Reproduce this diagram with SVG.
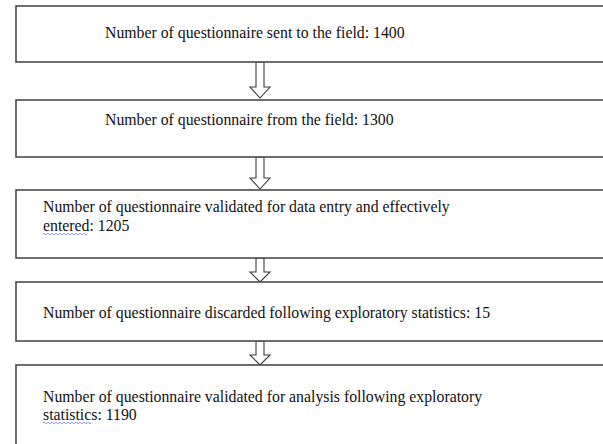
<svg xmlns="http://www.w3.org/2000/svg" width="603" height="444" viewBox="0 0 603 444">
  <defs>
    <style>
      .box { fill: #ffffff; stroke: #4a4a4a; stroke-width: 1.6; }
      .arrow { fill: #ffffff; stroke: #3a3a3a; stroke-width: 1.1; stroke-linejoin: miter; }
      text { font-family: 'Liberation Serif', 'Times New Roman', serif; font-size: 15.8px; fill: #111111; }
      .squiggle { fill: none; stroke: #6f7fe0; stroke-width: 0.8; }
    </style>
  </defs>
  <rect width="603" height="444" fill="#ffffff"/>

  <g id="connectors">
    <path class="arrow" d="M256,62 V87 H250 L260,98 L270,87 H264 V62 Z"/>
    <path class="arrow" d="M256,157 V178 H250 L260,189 L270,178 H264 V157 Z"/>
    <path class="arrow" d="M256,258 V272 H250 L260,282 L270,272 H264 V258 Z"/>
    <path class="arrow" d="M256,341 V355 H250 L260,365 L270,355 H264 V341 Z"/>
  </g>

  <g id="sent">
    <rect class="box" x="16" y="6" width="600" height="56"/>
    <text x="105" y="38">Number of questionnaire sent to the field: 1400</text>
  </g>

  <g id="returned">
    <rect class="box" x="16" y="100" width="600" height="57"/>
    <text x="105" y="125">Number of questionnaire from the field: 1300</text>
  </g>

  <g id="entered">
    <rect class="box" x="16" y="190" width="600" height="68"/>
    <text x="43" y="212">Number of questionnaire validated for data entry and effectively</text>
    <text x="43" y="231">entered: 1205</text>
    <path class="squiggle" d="M43,234 q1,-1.5 2,0 t2,0 t2,0 t2,0 t2,0 t2,0 t2,0 t2,0 t2,0 t2,0 t2,0 t2,0 t2,0 t2,0 t2,0 t2,0 t2,0 t2,0 t2,0 t2,0 t2,0 t2,0"/>
  </g>

  <g id="discarded">
    <rect class="box" x="16" y="282" width="600" height="59"/>
    <text x="43" y="318">Number of questionnaire discarded following exploratory statistics: 15</text>
  </g>

  <g id="analysed">
    <rect class="box" x="16" y="365" width="600" height="100"/>
    <text x="43" y="402">Number of questionnaire validated for analysis following exploratory</text>
    <text x="43" y="420">statistics: 1190</text>
    <path class="squiggle" d="M43,423 q1,-1.5 2,0 t2,0 t2,0 t2,0 t2,0 t2,0 t2,0 t2,0 t2,0 t2,0 t2,0 t2,0 t2,0 t2,0 t2,0 t2,0 t2,0 t2,0 t2,0 t2,0 t2,0 t2,0 t2,0 t2,0"/>
  </g>
</svg>
